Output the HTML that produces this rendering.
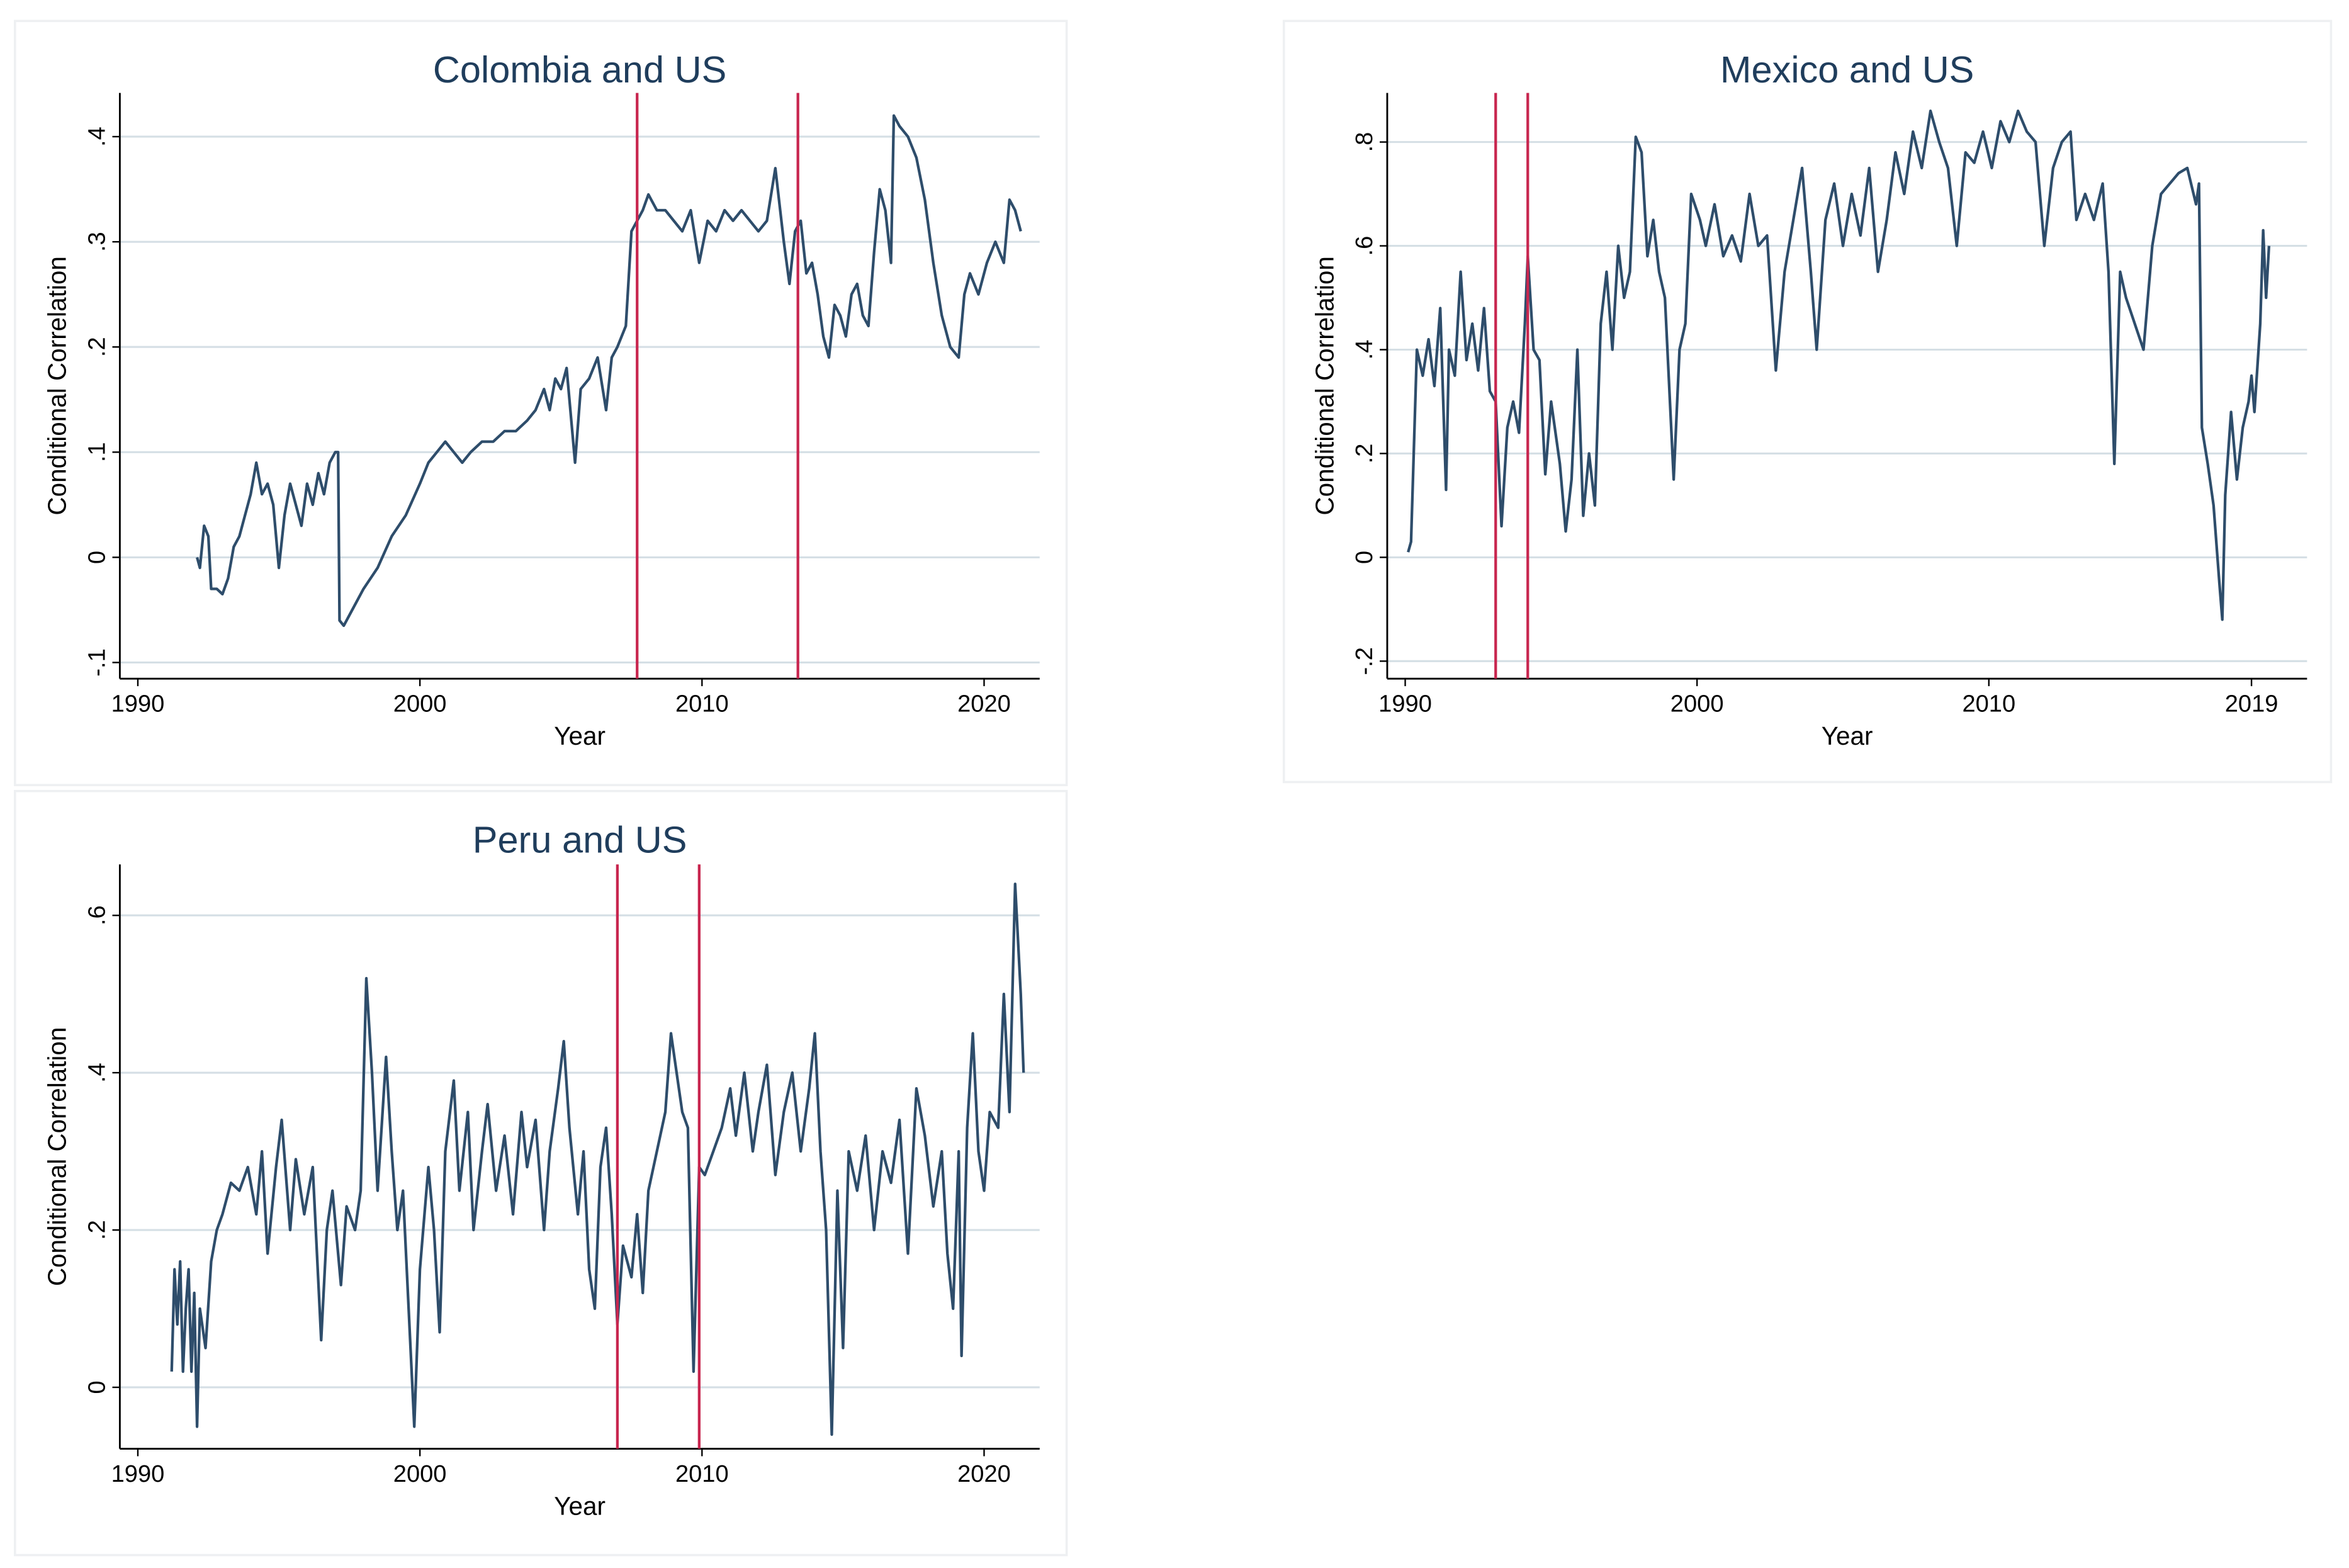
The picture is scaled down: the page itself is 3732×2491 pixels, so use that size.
<!DOCTYPE html>
<html><head><meta charset="utf-8"><title>Conditional correlations</title>
<style>html,body{margin:0;padding:0;background:#fff}svg{display:block}</style></head>
<body>
<svg id="chart" xmlns="http://www.w3.org/2000/svg" width="3732" height="2491" viewBox="0 0 1568 1046.6" font-family="Liberation Sans, Arial, sans-serif"></svg>
<script>
// ---- Colombia data ----
const colYears = [1992.1,1992.2,1992.35,1992.5,1992.6,1992.8,1993.0,1993.2,1993.4,1993.6,1993.8,1994.0,1994.2,1994.4,1994.6,1994.8,1995.0,1995.2,1995.4,1995.6,1995.8,1996.0,1996.2,1996.4,1996.6,1996.8,1997.0,1997.1,1997.15,1997.3,1997.6,1998.0,1998.5,1999.0,1999.5,2000.0,2000.3,2000.6,2000.9,2001.2,2001.5,2001.8,2002.2,2002.6,2003.0,2003.4,2003.8,2004.1,2004.4,2004.6,2004.8,2005.0,2005.2,2005.4,2005.5,2005.7,2006.0,2006.3,2006.6,2006.8,2007.0,2007.3,2007.5,2007.7,2007.9,2008.1,2008.4,2008.7,2009.0,2009.3,2009.6,2009.9,2010.2,2010.5,2010.8,2011.1,2011.4,2011.7,2012.0,2012.3,2012.6,2012.9,2013.1,2013.3,2013.5,2013.7,2013.9,2014.1,2014.3,2014.5,2014.7,2014.9,2015.1,2015.3,2015.5,2015.7,2015.9,2016.1,2016.3,2016.5,2016.7,2016.8,2017.0,2017.3,2017.6,2017.9,2018.2,2018.5,2018.8,2019.1,2019.3,2019.5,2019.8,2020.1,2020.4,2020.7,2020.9,2021.1,2021.3];
const colValues = [0,-0.01,0.03,0.02,-0.03,-0.03,-0.035,-0.02,0.01,0.02,0.04,0.06,0.09,0.06,0.07,0.05,-0.01,0.04,0.07,0.05,0.03,0.07,0.05,0.08,0.06,0.09,0.10,0.10,-0.06,-0.065,-0.05,-0.03,-0.01,0.02,0.04,0.07,0.09,0.10,0.11,0.10,0.09,0.10,0.11,0.11,0.12,0.12,0.13,0.14,0.16,0.14,0.17,0.16,0.18,0.12,0.09,0.16,0.17,0.19,0.14,0.19,0.20,0.22,0.31,0.32,0.33,0.345,0.33,0.33,0.32,0.31,0.33,0.28,0.32,0.31,0.33,0.32,0.33,0.32,0.31,0.32,0.37,0.30,0.26,0.31,0.32,0.27,0.28,0.25,0.21,0.19,0.24,0.23,0.21,0.25,0.26,0.23,0.22,0.29,0.35,0.33,0.28,0.42,0.41,0.40,0.38,0.34,0.28,0.23,0.20,0.19,0.25,0.27,0.25,0.28,0.30,0.28,0.34,0.33,0.31];
const colYTicks = [-0.1,0,0.1,0.2,0.3,0.4];
const colYLabels = ["-.1","0",".1",".2",".3",".4"];
const colXTicks = [1990,2000,2010,2020];
const colXLabels = ["1990","2000","2010","2020"];
const colBreaks = [2007.7,2013.4];

// ---- Mexico data ----
const mexYears = [1990.1,1990.2,1990.4,1990.6,1990.8,1991.0,1991.2,1991.4,1991.5,1991.7,1991.9,1992.1,1992.3,1992.5,1992.7,1992.9,1993.1,1993.3,1993.5,1993.7,1993.9,1994.1,1994.2,1994.4,1994.6,1994.8,1995.0,1995.3,1995.5,1995.7,1995.9,1996.1,1996.3,1996.5,1996.7,1996.9,1997.1,1997.3,1997.5,1997.7,1997.9,1998.1,1998.3,1998.5,1998.7,1998.9,1999.2,1999.4,1999.6,1999.8,2000.1,2000.3,2000.6,2000.9,2001.2,2001.5,2001.8,2002.1,2002.4,2002.7,2003.0,2003.3,2003.6,2003.9,2004.1,2004.4,2004.7,2005.0,2005.3,2005.6,2005.9,2006.2,2006.5,2006.8,2007.1,2007.4,2007.7,2008.0,2008.3,2008.6,2008.9,2009.2,2009.5,2009.8,2010.1,2010.4,2010.7,2011.0,2011.3,2011.6,2011.9,2012.2,2012.5,2012.8,2013.0,2013.3,2013.6,2013.9,2014.1,2014.3,2014.5,2014.7,2015.0,2015.3,2015.6,2015.9,2016.2,2016.5,2016.8,2017.1,2017.2,2017.3,2017.5,2017.7,2017.9,2018.0,2018.1,2018.3,2018.5,2018.7,2018.9,2019.0,2019.1,2019.3,2019.4,2019.5,2019.6];
const mexValues = [0.01,0.03,0.40,0.35,0.42,0.33,0.48,0.13,0.40,0.35,0.55,0.38,0.45,0.36,0.48,0.32,0.30,0.06,0.25,0.30,0.24,0.45,0.58,0.40,0.38,0.16,0.30,0.18,0.05,0.15,0.40,0.08,0.20,0.10,0.45,0.55,0.40,0.60,0.50,0.55,0.81,0.78,0.58,0.65,0.55,0.50,0.15,0.40,0.45,0.70,0.65,0.60,0.68,0.58,0.62,0.57,0.70,0.60,0.62,0.36,0.55,0.65,0.75,0.55,0.40,0.65,0.72,0.60,0.70,0.62,0.75,0.55,0.65,0.78,0.70,0.82,0.75,0.86,0.80,0.75,0.60,0.78,0.76,0.82,0.75,0.84,0.80,0.86,0.82,0.80,0.60,0.75,0.80,0.82,0.65,0.70,0.65,0.72,0.55,0.18,0.55,0.50,0.45,0.40,0.60,0.70,0.72,0.74,0.75,0.68,0.72,0.25,0.18,0.10,-0.05,-0.12,0.12,0.28,0.15,0.25,0.30,0.35,0.28,0.45,0.63,0.50,0.60];
const mexYTicks = [-0.2,0,0.2,0.4,0.6,0.8];
const mexYLabels = ["-.2","0",".2",".4",".6",".8"];
const mexXTicks = [1990,2000,2010,2019];
const mexXLabels = ["1990","2000","2010","2019"];
const mexBreaks = [1993.1,1994.2];

// ---- Peru data ----
const perYears = [1991.2,1991.3,1991.4,1991.5,1991.6,1991.7,1991.8,1991.9,1992.0,1992.1,1992.2,1992.4,1992.6,1992.8,1993.0,1993.3,1993.6,1993.9,1994.2,1994.4,1994.6,1994.9,1995.1,1995.4,1995.6,1995.9,1996.2,1996.5,1996.7,1996.9,1997.2,1997.4,1997.7,1997.9,1998.1,1998.3,1998.5,1998.8,1999.0,1999.2,1999.4,1999.6,1999.8,2000.0,2000.3,2000.5,2000.7,2000.9,2001.2,2001.4,2001.7,2001.9,2002.2,2002.4,2002.7,2003.0,2003.3,2003.6,2003.8,2004.1,2004.4,2004.6,2004.9,2005.1,2005.3,2005.6,2005.8,2006.0,2006.2,2006.4,2006.6,2006.8,2007.0,2007.2,2007.5,2007.7,2007.9,2008.1,2008.4,2008.7,2008.9,2009.1,2009.3,2009.5,2009.7,2009.9,2010.1,2010.4,2010.7,2011.0,2011.2,2011.5,2011.8,2012.0,2012.3,2012.6,2012.9,2013.2,2013.5,2013.8,2014.0,2014.2,2014.4,2014.6,2014.8,2015.0,2015.2,2015.5,2015.8,2016.1,2016.4,2016.7,2017.0,2017.3,2017.6,2017.9,2018.2,2018.5,2018.7,2018.9,2019.1,2019.2,2019.4,2019.6,2019.8,2020.0,2020.2,2020.5,2020.7,2020.9,2021.1,2021.3,2021.4];
const perValues = [0.02,0.15,0.08,0.16,0.02,0.10,0.15,0.02,0.12,-0.05,0.10,0.05,0.16,0.20,0.22,0.26,0.25,0.28,0.22,0.30,0.17,0.28,0.34,0.20,0.29,0.22,0.28,0.06,0.20,0.25,0.13,0.23,0.20,0.25,0.52,0.40,0.25,0.42,0.30,0.20,0.25,0.10,-0.05,0.15,0.28,0.20,0.07,0.30,0.39,0.25,0.35,0.20,0.30,0.36,0.25,0.32,0.22,0.35,0.28,0.34,0.20,0.30,0.38,0.44,0.33,0.22,0.30,0.15,0.10,0.28,0.33,0.22,0.08,0.18,0.14,0.22,0.12,0.25,0.30,0.35,0.45,0.40,0.35,0.33,0.02,0.28,0.27,0.30,0.33,0.38,0.32,0.40,0.30,0.35,0.41,0.27,0.35,0.40,0.30,0.38,0.45,0.30,0.20,-0.06,0.25,0.05,0.30,0.25,0.32,0.20,0.30,0.26,0.34,0.17,0.38,0.32,0.23,0.30,0.17,0.10,0.30,0.04,0.33,0.45,0.30,0.25,0.35,0.33,0.50,0.35,0.64,0.50,0.40];
const perYTicks = [0,0.2,0.4,0.6];
const perYLabels = ["0",".2",".4",".6"];
const perXTicks = [1990,2000,2010,2020];
const perXLabels = ["1990","2000","2010","2020"];
const perBreaks = [2007.0,2009.9];

const NS = "http://www.w3.org/2000/svg";
const svg = document.getElementById('chart');
function mk(tag, attrs, parent){const e=document.createElementNS(NS,tag);for(const k in attrs)e.setAttribute(k,attrs[k]);(parent||svg).appendChild(e);return e;}

function panel(cfg){
  const g = mk('g',{});
  
  
  const bg = mk('rect',{x:cfg.box[0],y:cfg.box[1],width:cfg.box[2],height:cfg.box[3],fill:'#fff',stroke:'#eef0f2','stroke-width':1.5},g);
  
  
  const xs = y => cfg.x0 + (y - cfg.xy0) * cfg.xk;
  const ys = v => cfg.y0 - v * cfg.yk;
  cfg.yt.forEach((t,i)=>{
    const yy = ys(t);
    const gl = mk('line',{x1:cfg.ax,x2:cfg.right,y1:yy,y2:yy,stroke:'#d5dfe5','stroke-width':1.3},g);
    
    
    mk('line',{x1:cfg.ax-5,x2:cfg.ax,y1:yy,y2:yy,stroke:'#000','stroke-width':1},g);
    const tx = mk('text',{x:0,y:0,'font-size':16,fill:'#000','text-anchor':'middle',transform:`translate(${cfg.ax-10},${yy}) rotate(-90)`},g);
    tx.textContent = cfg.yl[i];
    
    
  });
  const yaxis = mk('line',{x1:cfg.ax,x2:cfg.ax,y1:cfg.top,y2:cfg.bottom,stroke:'#000','stroke-width':1.2},g);
  
  
  const xaxis = mk('line',{x1:cfg.ax,x2:cfg.right,y1:cfg.bottom,y2:cfg.bottom,stroke:'#000','stroke-width':1.2},g);
  
  
  cfg.xt.forEach((t,i)=>{
    const xx = xs(t);
    mk('line',{x1:xx,x2:xx,y1:cfg.bottom,y2:cfg.bottom+5,stroke:'#000','stroke-width':1},g);
    const tx = mk('text',{x:xx,y:cfg.bottom+22,'font-size':16,fill:'#000','text-anchor':'middle'},g);
    tx.textContent = cfg.xl[i];
    
    
  });
  let d='';
  cfg.years.forEach((yr,i)=>{d += (i?'L':'M') + xs(yr).toFixed(2) + ' ' + ys(cfg.vals[i]).toFixed(2) + ' ';});
  const p = mk('path',{d:d,fill:'none',stroke:'#2e4d6b','stroke-width':1.8,'stroke-linejoin':'round'},g);
  
  
  cfg.breaks.forEach(b=>{
    const l = mk('line',{x1:xs(b),x2:xs(b),y1:cfg.top,y2:cfg.bottom,stroke:'#c8264f','stroke-width':1.8},g);
    
    
  });
  const title = mk('text',{x:(cfg.ax+cfg.right)/2,y:cfg.box[1]+41,'font-size':25,fill:'#1f3d5c','text-anchor':'middle'},g);
  title.textContent = cfg.title;
  
  
  const xt = mk('text',{x:(cfg.ax+cfg.right)/2,y:cfg.bottom+44,'font-size':17,fill:'#000','text-anchor':'middle'},g);
  xt.textContent = 'Year';
  
  
  const yt = mk('text',{x:0,y:0,'font-size':17,fill:'#000','text-anchor':'middle',transform:`translate(${cfg.ax-36},${(cfg.top+cfg.bottom)/2}) rotate(-90)`},g);
  yt.textContent = 'Conditional Correlation';
  
  
}

panel({id:'colombia',title:'Colombia and US',box:[10,14,702,510],ax:80,right:694,top:62,bottom:453,
  x0:92,xy0:1990,xk:18.83,y0:372,yk:702,years:colYears,vals:colValues,yt:colYTicks,yl:colYLabels,xt:colXTicks,xl:colXLabels,breaks:colBreaks});
panel({id:'mexico',title:'Mexico and US',box:[857,14,699,508],ax:926,right:1540,top:62,bottom:453,
  x0:938,xy0:1990,xk:19.48,y0:372,yk:346.5,years:mexYears,vals:mexValues,yt:mexYTicks,yl:mexYLabels,xt:mexXTicks,xl:mexXLabels,breaks:mexBreaks});
panel({id:'peru',title:'Peru and US',box:[10,528,702,510],ax:80,right:694,top:577,bottom:967,
  x0:92,xy0:1990,xk:18.83,y0:926,yk:525,years:perYears,vals:perValues,yt:perYTicks,yl:perYLabels,xt:perXTicks,xl:perXLabels,breaks:perBreaks});
</script>
</body></html>
